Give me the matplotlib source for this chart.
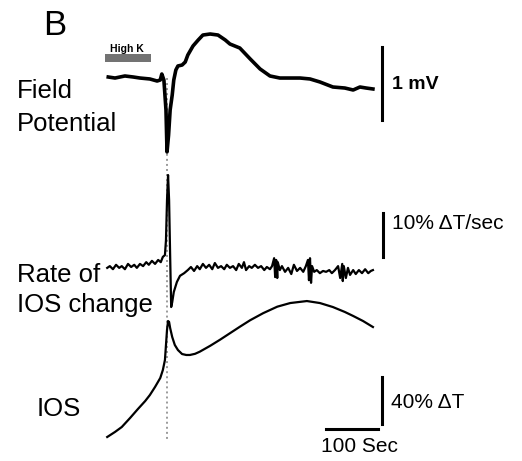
import matplotlib
matplotlib.use("Agg")
import matplotlib.pyplot as plt
from matplotlib.patches import Rectangle

plt.rcParams['font.family'] = ['Liberation Sans', 'DejaVu Sans']

# ---------------- data (time in s, onset of spreading depolarisation at 0) ----
fp_t = [-113, -100, -81, -65, -52, -33, -19, -13, -10, -6, -2, 0, 3, 6, 10, 13, 17,
        21, 29, 35, 40, 50, 60, 69, 83, 98, 112, 121, 140, 160, 179, 198, 217, 256,
        275, 294, 319, 342, 358, 371, 383, 396]
fp_mv = [0.00, -0.014, 0.014, 0.00, -0.014, -0.027, -0.055, -0.041, 0.041, -0.041,
         -0.452, -1.027, -0.795, -0.452, -0.247, -0.041, 0.096, 0.151, 0.164, 0.205,
         0.301, 0.425, 0.507, 0.575, 0.589, 0.575, 0.507, 0.452, 0.397, 0.247, 0.110,
         0.014, -0.014, -0.014, -0.027, -0.068, -0.137, -0.151, -0.178, -0.137,
         -0.151, -0.164]

rate_t = [-115, -110, -104, -98, -92, -87, -81, -75, -69, -63, -58, -52, -46, -40,
          -35, -29, -23, -17, -12, -8, -4, -2, 0, 2, 4, 6, 8, 10, 13, 19, 25, 33, 40,
          46, 52, 58, 63, 69, 75, 81, 87, 92, 98, 104, 110, 115, 121, 127, 133, 138,
          144, 148, 152, 158, 163, 169, 175, 181, 187, 192, 198, 202, 206, 208, 210,
          212, 213, 217, 221, 227, 233, 239, 244, 250, 256, 262, 267, 271, 273, 275,
          277, 279, 283, 288, 294, 300, 306, 312, 317, 323, 329, 333, 337, 338, 340,
          344, 348, 352, 358, 363, 369, 375, 381, 387, 392, 396]
rate_v = [-0.2, 0.2, -0.5, 0.5, -0.2, 0.2, -0.5, 0.7, 0.0, 0.5, -0.2, 0.7, 0.2, 1.1,
          0.5, 1.4, 0.7, 1.6, 1.1, 2.3, 2.7, 6.1, 15.2, 20.9, 15.2, 2.7, -9.1, -8.0,
          -5.7, -3.4, -2.0, -1.4, -0.7, 0.0, -0.9, 0.2, -0.5, 0.7, -0.2, 0.5, -0.5,
          0.9, -0.2, 0.2, -0.5, 0.5, -0.2, 0.2, -0.7, 0.7, -0.2, 1.1, -0.7, 0.2, -0.2,
          0.5, -0.2, 0.2, -0.7, 0.0, -0.5, 0.2, 2.0, -2.3, 1.6, -2.5, 1.1, -0.7, 0.2,
          -1.1, -0.2, -1.6, 0.5, -0.9, -0.2, -1.1, 0.2, 1.6, -3.0, 2.0, -3.6, 0.2,
          -1.1, -0.7, -1.4, -0.9, -1.1, -0.7, -1.4, -0.7, 0.2, -2.5, 0.7, -3.2, 0.2,
          -2.5, -0.2, -1.8, -0.7, -1.6, -0.7, -1.4, -0.5, -1.4, -0.9, -0.7]

ios_t = [-115, -100, -87, -71, -56, -42, -33, -23, -13, -8, -4, -2, 0, 2, 4, 6, 10,
         15, 21, 29, 37, 44, 54, 63, 83, 102, 121, 140, 160, 185, 212, 237, 269, 294,
         319, 342, 358, 377, 396]
ios_v = [0.0, 4.3, 8.5, 16.2, 23.8, 30.6, 35.7, 42.6, 50.2, 57.0, 65.5, 78.3, 91.1,
         98.7, 97.9, 92.8, 85.1, 78.3, 74.0, 70.6, 69.8, 69.8, 70.8, 72.6, 77.6, 82.8,
         88.3, 93.8, 99.4, 105.4, 110.9, 114.0, 115.7, 114.0, 110.6, 106.4, 103.0,
         98.7, 93.6]

high_k = (-119, -31)          # application of high K (s)
bar_time = 100                # s
bar_fp = 1                    # mV
bar_rate = 10                 # % dT/sec
bar_ios = 40                  # % dT

# ---------------- figure ------------------------------------------------------
W, H = 522, 461
fig = plt.figure(figsize=(W / 100, H / 100), dpi=100)
xlim = (-321.2, 682.7)

ax_fp = fig.add_axes([0, 0, 1, 1])
ax_rate = fig.add_axes([0, 0, 1, 1])
ax_ios = fig.add_axes([0, 0, 1, 1])
for a in (ax_fp, ax_rate, ax_ios):
    a.set_xlim(*xlim)
    a.axis('off')
    a.patch.set_alpha(0)
ax_fp.set_ylim(-5.260, 1.0548)
ax_rate.set_ylim(-44.09, 60.68)
ax_ios.set_ylim(-20.43, 371.9)

# dotted onset line
ax_fp.plot([0, 0], [-0.014, -5.0], color='#9a9a9a', lw=1.4,
           linestyle=(0, (1, 1.6)), zorder=1)

ax_fp.plot(fp_t, fp_mv, color='black', lw=2.6, solid_joinstyle='round', zorder=3)
ax_rate.plot(rate_t, rate_v, color='black', lw=1.6, solid_joinstyle='round', zorder=3)
ax_ios.plot(ios_t, ios_v, color='black', lw=1.6, solid_joinstyle='round', zorder=3)

# high K bar
ax_fp.add_patch(Rectangle((high_k[0], 0.205), high_k[1] - high_k[0], 0.11,
                          color='#737373', lw=0))

# scale bars
ax_fp.plot([413, 413], [0.41, 0.41 - bar_fp], color='black', lw=2.2)
ax_rate.plot([415, 415], [12.3, 12.3 - bar_rate], color='black', lw=2.2)
ax_ios.plot([413, 413], [51, 51 - bar_ios], color='black', lw=2.2)
ax_ios.plot([305.8, 305.8 + bar_time], [6.8, 6.8], color='black', lw=2.2)


def ftext(x, y, s, **kw):
    fig.text(x / W, 1 - y / H, s, va='baseline', ha='left', **kw)


ftext(43, 35, 'B', fontsize=25)
ftext(110, 52, 'High K', fontsize=7.5, fontweight='bold')
ftext(17, 98, 'Field', fontsize=18.5)
ftext(17, 131, 'Potential', fontsize=18.5)
ftext(17, 282, 'Rate of', fontsize=18.5)
ftext(17, 312, 'IOS change', fontsize=18.5)
ftext(37, 416, 'IOS', fontsize=18.5)
ftext(392, 89, '1 mV', fontsize=14, fontweight='bold')
ftext(392, 229, '10% \u0394T/sec', fontsize=15)
ftext(391, 408, '40% \u0394T', fontsize=15)
ftext(321, 452, '100 Sec', fontsize=15)

fig.savefig('out.png', dpi=100)
